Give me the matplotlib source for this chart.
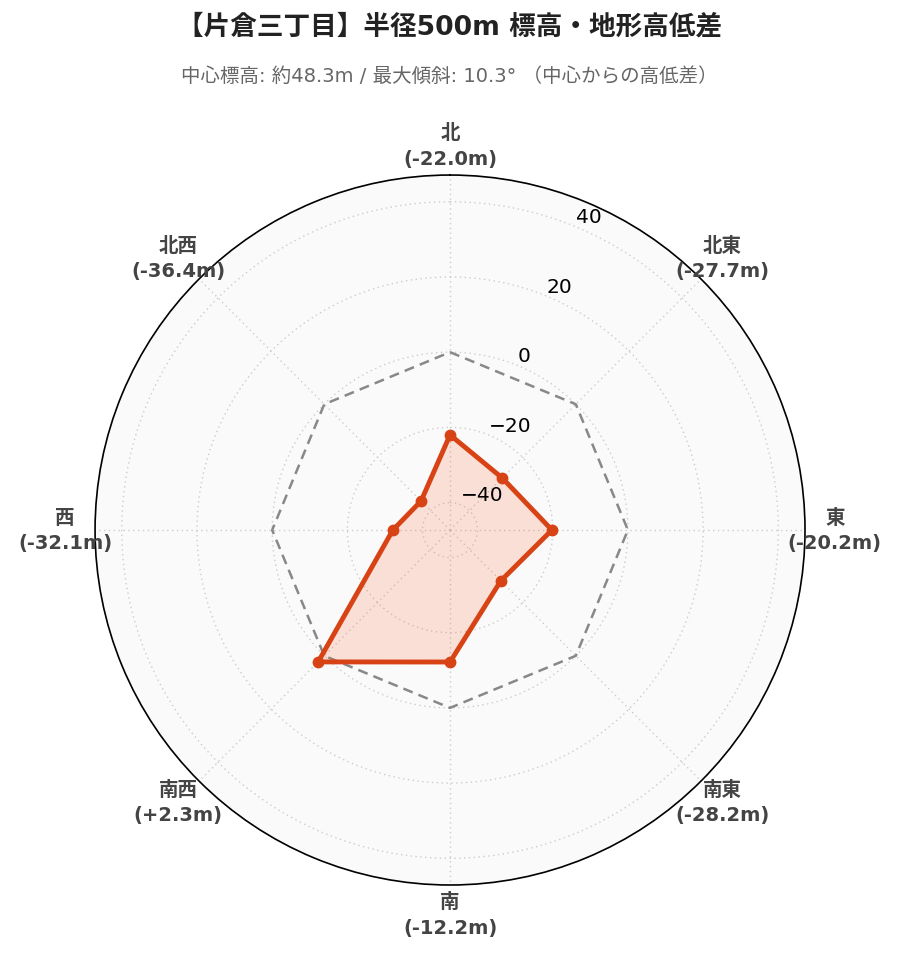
import numpy as np
import matplotlib.pyplot as plt
from matplotlib.transforms import offset_copy

plt.rcParams['font.family'] = ['DejaVu Sans', 'Noto Sans CJK JP']

directions = ['北', '北東', '東', '南東', '南', '南西', '西', '北西']
diffs = [-22.0, -27.7, -20.2, -28.2, -12.2, 2.3, -32.1, -36.4]
r_ticks = [-40, -20, 0, 20, 40]
r_min, r_max = -47.3, 47.1

line_color = '#d84315'
fill_color = '#ff5722'

theta = np.deg2rad(np.arange(0, 360, 45))
theta_c = np.append(theta, theta[0])
vals_c = np.append(diffs, diffs[0])

fig = plt.figure(figsize=(8.99, 9.62), dpi=100)
ax = fig.add_axes([0.1057, 0.079, 0.7898, 0.738], projection='polar')
ax.set_theta_zero_location('N')
ax.set_theta_direction(-1)
ax.set_facecolor('#fafafa')
ax.set_ylim(r_min, r_max)

# zero reference line
ax.plot(theta_c, np.zeros_like(theta_c), color='#888888', lw=1.8, ls=(0, (4, 2.5)), zorder=3)

ax.fill(theta_c, vals_c, color=fill_color, alpha=0.16, lw=0, zorder=4)
ax.plot(theta_c, vals_c, color=line_color, lw=3.5, zorder=5)
ax.plot(theta, diffs, 'o', color=line_color, ms=7.5, zorder=6)

ax.set_xticks(theta)
ax.set_xticklabels([])
ax.set_yticks(r_ticks)
ax.set_yticklabels([])
ax.grid(True, color='#cccccc', ls=(0, (1, 2.5)), lw=1.0)
ax.spines['polar'].set_color('black')
ax.spines['polar'].set_linewidth(1.2)

# radial tick labels
tick_tr = offset_copy(ax.transData, fig=fig, x=0, y=10, units='dots')
for t in r_ticks:
    ax.text(np.deg2rad(22.5), t, f'{t}'.replace('-', '\u2212'), transform=tick_tr,
            ha='left', va='center', fontsize=14.5, color='black', zorder=10)

for th, name, d in zip(theta, directions, diffs):
    x = 0.5 + 0.542 * np.sin(th)
    y = 0.5 + 0.542 * np.cos(th)
    lbl = f'{name}\n(+{d:.1f}m)' if d > 0 else f'{name}\n({d:.1f}m)'
    ax.text(x, y, lbl, transform=ax.transAxes, ha='center', va='center', fontsize=14,
            fontweight='bold', color='#444444', linespacing=1.45, zorder=10)

fig.text(0.5, 0.971, '【片倉三丁目】半径500m 標高・地形高低差', ha='center', va='center',
         fontsize=19.2, fontweight='bold', color='#222222')
fig.text(0.5, 0.921, '中心標高: 約48.3m / 最大傾斜: 10.3° （中心からの高低差）', ha='center', va='center',
         fontsize=14, color='#666666')

fig.savefig('out.png', dpi=100, facecolor='white')
